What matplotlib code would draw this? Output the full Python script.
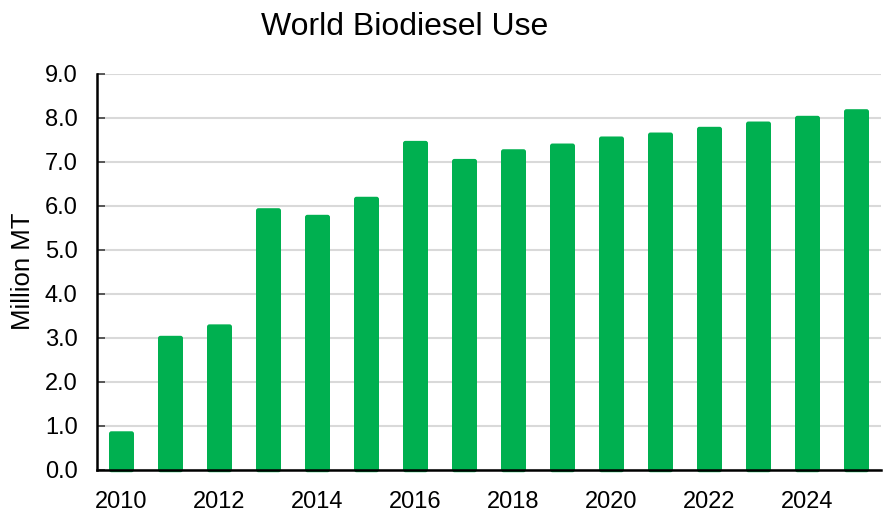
import matplotlib
matplotlib.use("Agg")
import matplotlib.pyplot as plt
from matplotlib.patches import FancyBboxPatch
import numpy as np

plt.rcParams['font.family'] = ['Liberation Sans', 'DejaVu Sans']

years = list(range(2010, 2026))
biodiesel_use = [0.88, 3.05, 3.31, 5.95, 5.80, 6.21, 7.48, 7.07,
                 7.29, 7.42, 7.58, 7.67, 7.80, 7.92, 8.05, 8.20]
y_ticks = [0, 1, 2, 3, 4, 5, 6, 7, 8, 9]
x_tick_years = [2010, 2012, 2014, 2016, 2018, 2020, 2022, 2024]

bar_color = "#00B050"

fig = plt.figure(figsize=(8.9, 5.12), dpi=100)
ax = fig.add_axes([97 / 890, 1 - 470 / 512, 784 / 890, 396 / 512])

x = np.arange(len(years))
width = 0.51
bars = ax.bar(x, biodiesel_use, width=width, color=bar_color, zorder=2)

# replace plain rectangles with slightly rounded ones
for rect in bars:
    rect.set_visible(False)
    rb = FancyBboxPatch((rect.get_x(), -0.05), rect.get_width(),
                        rect.get_height() + 0.05,
                        boxstyle="round,pad=0,rounding_size=0.05",
                        mutation_aspect=1.1, facecolor=bar_color,
                        edgecolor='none', zorder=2, clip_on=False)
    ax.add_patch(rb)

ax.set_xlim(-0.5, len(years) - 0.5)
ax.set_ylim(0, 9)
ax.set_yticks(y_ticks)
ax.set_yticklabels([f"{v:.1f}" for v in y_ticks], fontsize=17)
ax.set_xticks([years.index(y) for y in x_tick_years])
ax.set_xticklabels([str(y) for y in x_tick_years], fontsize=17)
ax.tick_params(axis='x', length=0, pad=15)
ax.tick_params(axis='y', direction='in', length=6, width=1.2,
               color="#404040", pad=14)

ax.grid(axis='y', color="#D9D9D9", linewidth=1.5, zorder=0)
ax.set_axisbelow(True)
for side in ('top', 'right'):
    ax.spines[side].set_visible(False)
ax.spines['left'].set_linewidth(1.8)
ax.spines['bottom'].set_linewidth(1.8)
ax.spines['left'].set_zorder(3)
ax.spines['bottom'].set_zorder(3)

fig.text(23 / 890, 1 - 271 / 512, "Million MT", fontsize=18.5,
         rotation=90, ha='center', va='center')
fig.text(405 / 890, 1 - 27 / 512, "World Biodiesel Use", fontsize=23,
         ha='center', va='center')

fig.savefig("out.png", dpi=100)
